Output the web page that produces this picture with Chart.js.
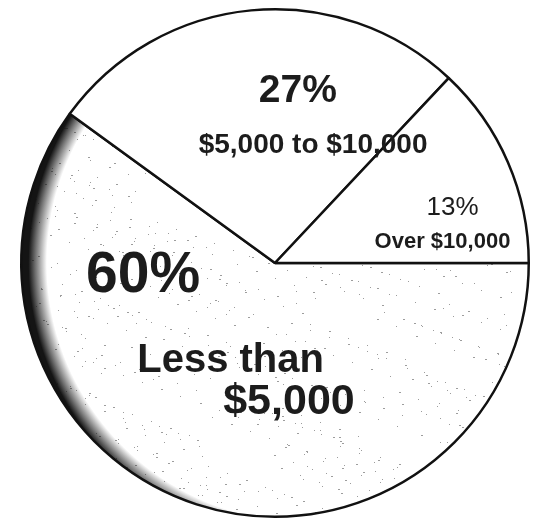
<!DOCTYPE html>
<html>
<head>
<meta charset="utf-8">
<script src="https://cdn.jsdelivr.net/npm/chart.js@4"></script>
<style>
html,body{margin:0;padding:0;background:#fff;}
#wrap{width:544px;height:521px;position:relative;}
</style>
</head>
<body>
<div id="wrap"><canvas id="pieChart"></canvas></div>
<script>
// values
const categories = ["Less than $5,000", "$5,000 to $10,000", "Over $10,000"];
const shares = [60, 27, 13];
const pctLabels = ["60%", "27%", "13%"];
const nameLines = [["Less than", "$5,000"], ["$5,000 to $10,000"], ["Over $10,000"]];

const FONT = '"Liberation Sans", Arial, Helvetica, sans-serif';
const INK = "#1c1c1c";

// stippled fill with a dark rim on the left side of the big slice
const stipplePlugin = {
  id: "stipple",
  beforeDatasetsDraw(chart) {
    const arc = chart.getDatasetMeta(0).data[0];
    if (!arc) return;
    const cx = arc.x, cy = arc.y, r = arc.outerRadius;
    const off = document.createElement("canvas");
    off.width = chart.canvas.width;
    off.height = chart.canvas.height;
    const g = off.getContext("2d");
    g.fillStyle = "#fff";
    g.fillRect(0, 0, off.width, off.height);
    g.fillStyle = "rgba(60,60,60,0.5)";
    for (let i = 0; i < 1400; i++) {
      const x = (i * 7919 + (i * i) % 131) % off.width;
      const y = (i * 104729 + (i * 31) % 97) % off.height;
      g.fillRect(x, y, 1 + (i % 3 === 0 ? 1 : 0), 1);
    }
    const gx = cx + r * 0.12;
    const grad = g.createRadialGradient(gx, cy, 0, gx, cy, r * 1.12);
    grad.addColorStop(0, "rgba(20,20,20,0)");
    grad.addColorStop(0.91, "rgba(20,20,20,0)");
    grad.addColorStop(0.95, "rgba(20,20,20,0.6)");
    grad.addColorStop(0.975, "rgba(20,20,20,1)");
    grad.addColorStop(1, "rgba(20,20,20,1)");
    g.fillStyle = grad;
    g.fillRect(0, 0, off.width, off.height);
    const pat = chart.ctx.createPattern(off, "no-repeat");
    if (pat) arc.options.backgroundColor = pat;
  }
};

// text placed relative to the pie centre, in units of the radius
const labelPlugin = {
  id: "sliceText",
  afterDraw(chart) {
    const arc = chart.getDatasetMeta(0).data[0];
    const cx = arc.x, cy = arc.y, r = arc.outerRadius;
    const ctx = chart.ctx;
    const place = [
      [{ t: pctLabels[0], dx: -0.52, dy: 0.115, f: "bold 57px" },
       { t: nameLines[0][0], dx: -0.175, dy: 0.43, f: "bold 40px" },
       { t: nameLines[0][1], dx: 0.055, dy: 0.595, f: "bold 43px" }],
      [{ t: pctLabels[1], dx: 0.09, dy: -0.635, f: "bold 39px" },
       { t: nameLines[1][0], dx: 0.15, dy: -0.435, f: "bold 28px" }],
      [{ t: pctLabels[2], dx: 0.70, dy: -0.19, f: "26px" },
       { t: nameLines[2][0], dx: 0.66, dy: -0.06, f: "bold 22px" }]
    ];
    ctx.save();
    ctx.fillStyle = INK;
    ctx.textAlign = "center";
    ctx.textBaseline = "alphabetic";
    place.forEach(group => group.forEach(p => {
      ctx.font = p.f + " " + FONT;
      ctx.fillText(p.t, cx + p.dx * r, cy + p.dy * r);
    }));
    ctx.restore();
  }
};

new Chart(
  document.getElementById("pieChart"),
  {
    type: "pie",
    data: {
      labels: categories,
      datasets: [{
        data: shares,
        backgroundColor: ["#fff", "#fff", "#fff"],
        borderColor: "#111",
        borderWidth: 2.5
      }]
    },
    options: {
      responsive: true,
      maintainAspectRatio: false,
      animation: false,
      rotation: 90,
      layout: { padding: { top: 8, bottom: 3, left: 20, right: 14 } },
      plugins: {
        legend: { display: false },
        tooltip: { enabled: false }
      }
    },
    plugins: [stipplePlugin, labelPlugin]
  }
);
</script>
</body>
</html>
